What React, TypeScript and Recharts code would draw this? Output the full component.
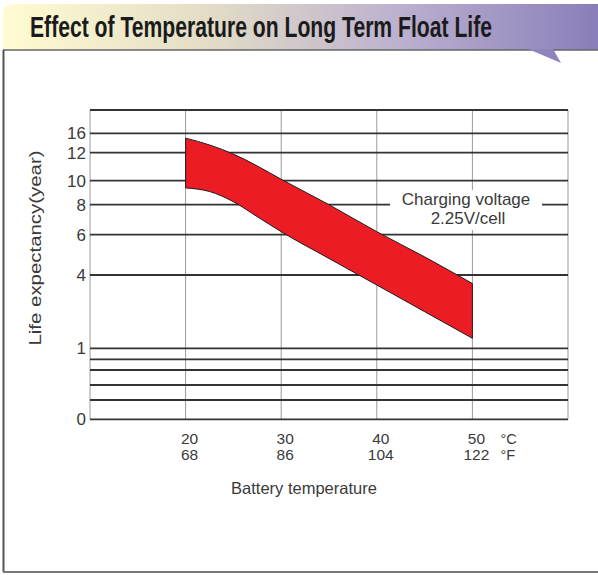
import React from 'react';
import { ComposedChart, Area, XAxis, YAxis, CartesianGrid, ReferenceLine } from 'recharts';

// Battery temperature (°C) sample points along the band
const tempC = [20, 22.5, 25, 27.5, 30, 35, 40, 45, 50];
// Upper / lower edge of the life-expectancy band (years)
const lifeHigh = [15.0, 13.6, 11.9, 11.05, 10.1, 8.0, 6.2, 4.9, 3.65];
const lifeLow = [9.4, 9.1, 8.25, 7.2, 6.2, 4.82, 3.59, 2.5, 1.41];

// X axis ticks
const xTicksC = [10, 20, 30, 40, 50, 60];
const xLabelsC = ['', '20', '30', '40', '50', ''];
const xLabelsF = ['', '68', '86', '104', '122', ''];

// Non-uniform life axis: year values and their scale units
const lifeStops = [0, 0.2, 0.4, 0.6, 0.8, 1, 4, 6, 8, 10, 12, 16, 20];
const lifeUnits = [0, 19.3, 34.3, 49.3, 60, 71, 144.3, 184.6, 214.6, 238.6, 266.6, 286, 309.3];
const lifeLabels = ['0', '', '', '', '', '1', '4', '6', '8', '10', '12', '16', ''];

const FONT = '"Liberation Sans", Arial, sans-serif';
const TEXT = '#3a3a3a';

function toAxis(v: number): number {
  for (let i = 0; i < lifeStops.length - 1; i++) {
    if (v >= lifeStops[i] && v <= lifeStops[i + 1]) {
      const f = (v - lifeStops[i]) / (lifeStops[i + 1] - lifeStops[i]);
      return lifeUnits[i] + f * (lifeUnits[i + 1] - lifeUnits[i]);
    }
  }
  return lifeUnits[lifeUnits.length - 1];
}

const bandData = tempC.map((t, i) => ({ t, band: [toAxis(lifeLow[i]), toAxis(lifeHigh[i])] }));
const yTicks = lifeStops.map(toAxis);

const XTick = (props: any) => {
  const { x, y, payload } = props;
  const idx = xTicksC.indexOf(payload.value);
  if (idx < 0 || !xLabelsC[idx]) return <g />;
  const isLast = idx === xLabelsC.length - 2;
  return (
    <g fontFamily={FONT} fill={TEXT}>
      <text x={x + 4} y={y + 22.5} textAnchor="middle" fontSize={15.5}>{xLabelsC[idx]}</text>
      <text x={x + 4} y={y + 39} textAnchor="middle" fontSize={15.5}>{xLabelsF[idx]}</text>
      {isLast && (
        <g>
          <text x={x + 28} y={y + 22.5} fontSize={14.5}>°C</text>
          <text x={x + 28} y={y + 39} fontSize={14.5}>°F</text>
        </g>
      )}
    </g>
  );
};

const YTick = (props: any) => {
  const { x, y, payload } = props;
  let idx = -1;
  yTicks.forEach((u, i) => {
    if (Math.abs(u - payload.value) < 1e-6) idx = i;
  });
  if (idx < 0 || !lifeLabels[idx]) return <g />;
  return (
    <text x={x} y={y + 6} textAnchor="end" fontSize={17} fontFamily={FONT} fill={TEXT}>
      {lifeLabels[idx]}
    </text>
  );
};

export default function App() {
  const first = bandData[0];
  const last = bandData[bandData.length - 1];
  return (
    <div style={{ position: 'absolute', left: 0, top: 0, width: 598, height: 575, background: '#fff' }}>
      <ComposedChart
        width={598}
        height={575}
        data={bandData}
        margin={{ top: 110, right: 30, bottom: 0, left: 0 }}
      >
        <CartesianGrid horizontal={false} stroke="#9a9a9a" strokeWidth={1} />
        <CartesianGrid vertical={false} stroke="#333" strokeWidth={1.8} />
        <XAxis
          dataKey="t"
          type="number"
          domain={[10, 60]}
          ticks={xTicksC}
          interval={0}
          height={155.7}
          axisLine={false}
          tickLine={false}
          tickSize={0}
          tick={<XTick />}
          label={{
            content: () => (
              <text x={304} y={494} textAnchor="middle" fontSize={16.5} fontFamily={FONT} fill={TEXT}>
                Battery temperature
              </text>
            ),
          }}
        />
        <YAxis
          type="number"
          domain={[0, lifeUnits[lifeUnits.length - 1]]}
          ticks={yTicks}
          interval={0}
          width={90}
          axisLine={false}
          tickLine={false}
          tickSize={0}
          tickMargin={4}
          tick={<YTick />}
          allowDataOverflow
          label={{
            content: () => (
              <text
                transform="translate(41,248) rotate(-90)"
                textAnchor="middle"
                fontSize={16}
                fontFamily={FONT}
                fill={TEXT}
                textLength={195}
                lengthAdjust="spacingAndGlyphs"
              >
                Life expectancy(year)
              </text>
            ),
          }}
        />
        <Area
          dataKey="band"
          type="monotone"
          fill="#ec1c24"
          fillOpacity={1}
          stroke="#1e1e1e"
          strokeWidth={1}
          dot={false}
          activeDot={false}
          isAnimationActive={false}
        />
        <ReferenceLine
          segment={[{ x: first.t, y: first.band[0] }, { x: first.t, y: first.band[1] }]}
          stroke="#1e1e1e"
          strokeWidth={1}
          ifOverflow="visible"
        />
        <ReferenceLine
          segment={[{ x: last.t, y: last.band[0] }, { x: last.t, y: last.band[1] }]}
          stroke="#1e1e1e"
          strokeWidth={1}
          ifOverflow="visible"
        />
      </ComposedChart>
      <svg
        width={598}
        height={575}
        style={{ position: 'absolute', left: 0, top: 0, pointerEvents: 'none' }}
      >
        <defs>
          <linearGradient id="bannerGrad" x1="0" x2="1" y1="0" y2="0">
            <stop offset="0" stopColor="#fffcd2" />
            <stop offset="0.35" stopColor="#e2dcc6" />
            <stop offset="0.65" stopColor="#beb3cf" />
            <stop offset="1" stopColor="#8a7eba" />
          </linearGradient>
        </defs>
        <path d="M3,50 L3,14 Q3,4 13,4 L598,4 L598,50 Z" fill="url(#bannerGrad)" />
        <line x1={3} y1={50} x2={598} y2={50} stroke="#666" strokeWidth={1.5} />
        <path d="M528,49 L553,49 L561,63 Z" fill="#8f84bd" />
        <line x1={3.5} y1={50} x2={3.5} y2={572} stroke="#555" strokeWidth={2} />
        <line x1={3} y1={572} x2={598} y2={572} stroke="#777" strokeWidth={2} />
        <text
          transform="translate(30,37) scale(1,1.6)"
          x={0}
          y={0}
          fontFamily={FONT}
          fontWeight={700}
          fontSize={19}
          textLength={462}
          lengthAdjust="spacingAndGlyphs"
          fill="#1b1b1b"
        >
          Effect of Temperature on Long Term Float Life
        </text>
        <rect x={390} y={190} width={152} height={40} fill="#fff" />
        <text x={466} y={205} textAnchor="middle" fontSize={17} fontFamily={FONT} fill={TEXT}>
          Charging voltage
        </text>
        <text x={468} y={224} textAnchor="middle" fontSize={17} fontFamily={FONT} fill={TEXT}>
          2.25V/cell
        </text>
      </svg>
    </div>
  );
}
